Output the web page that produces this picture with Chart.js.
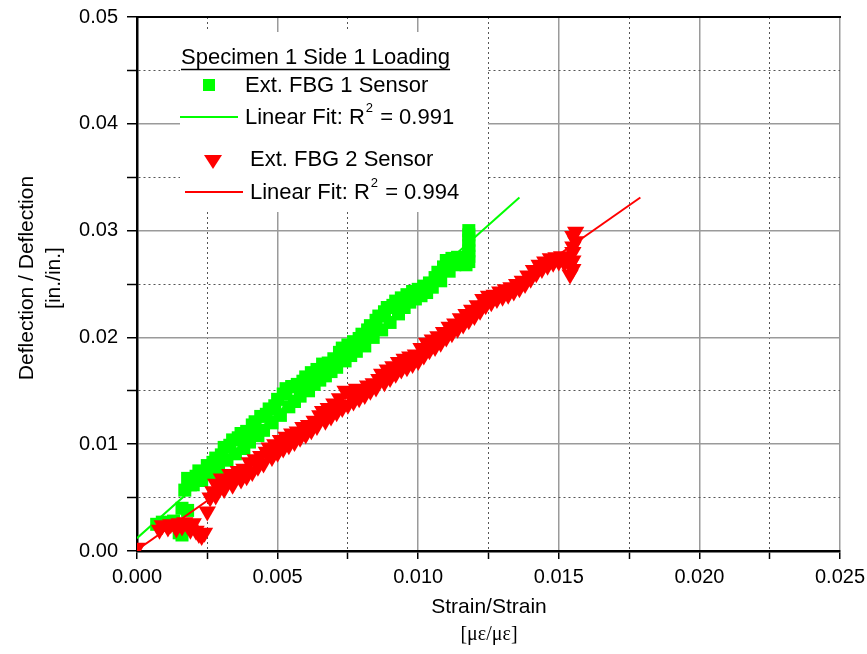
<!DOCTYPE html>
<html>
<head>
<meta charset="utf-8">
<script src="https://cdn.jsdelivr.net/npm/chart.js@4/dist/chart.umd.min.js"></script>
<style>
  html, body { margin: 0; padding: 0; background: #fff; }
</style>
</head>
<body>
<canvas id="chart" width="867" height="654"></canvas>
<script>
// Ext. FBG 1 sensor (strain, deflection)
const fbg1Strain = [
  0.0007, 0.0009, 0.0011, 0.0013, 0.0014, 0.0015, 0.0016, 0.0017, 0.0016, 0.0018,
  0.0017, 0.0019, 0.0018, 0.0021, 0.0022, 0.0024, 0.0025, 0.0027, 0.0028, 0.0030,
  0.0031, 0.0033, 0.0034, 0.0036, 0.0037, 0.0039, 0.0041, 0.0042, 0.0044, 0.0046,
  0.0047, 0.0049, 0.0050, 0.0052, 0.0053, 0.0055, 0.0057, 0.0059, 0.0060, 0.0062,
  0.0064, 0.0066, 0.0068, 0.0070, 0.0072, 0.0073, 0.0075, 0.0077, 0.0079, 0.0080,
  0.0082, 0.0083, 0.0085, 0.0086, 0.0088, 0.0089, 0.0091, 0.0092, 0.0094, 0.0096,
  0.0098, 0.0100, 0.0102, 0.0104, 0.0106, 0.0107, 0.0109, 0.0110, 0.0112, 0.0114,
  0.0116, 0.0118, 0.0118, 0.0118, 0.0118, 0.0118, 0.0118, 0.0118,
  0.0020, 0.0023, 0.0026, 0.0029, 0.0032, 0.0035, 0.0038, 0.0040, 0.0043, 0.0045,
  0.0048, 0.0051, 0.0054, 0.0056, 0.0058, 0.0061, 0.0063, 0.0065, 0.0067, 0.0069,
  0.0071, 0.0074, 0.0076, 0.0078, 0.0081, 0.0084, 0.0087, 0.0090, 0.0093, 0.0095,
  0.0097, 0.0099, 0.0101, 0.0103, 0.0105, 0.0108, 0.0111, 0.0113, 0.0115, 0.0117
];
const fbg1Defl = [
  0.0025, 0.0027, 0.0026, 0.0028, 0.0024, 0.0017, 0.0015, 0.0021, 0.0040, 0.0038,
  0.0057, 0.0062, 0.0068, 0.0070, 0.0075, 0.0074, 0.0080, 0.0083, 0.0087, 0.0090,
  0.0097, 0.0099, 0.0104, 0.0106, 0.0110, 0.0112, 0.0118, 0.0121, 0.0126, 0.0128,
  0.0133, 0.0136, 0.0142, 0.0147, 0.0152, 0.0154, 0.0156, 0.0159, 0.0163, 0.0167,
  0.0170, 0.0175, 0.0176, 0.0180, 0.0186, 0.0190, 0.0193, 0.0196, 0.0199, 0.0203,
  0.0207, 0.0211, 0.0216, 0.0220, 0.0224, 0.0228, 0.0230, 0.0234, 0.0237, 0.0240,
  0.0243, 0.0245, 0.0248, 0.0251, 0.0256, 0.0261, 0.0266, 0.0272, 0.0274, 0.0275,
  0.0274, 0.0271, 0.0276, 0.0281, 0.0286, 0.0291, 0.0296, 0.0300,
  0.0062, 0.0066, 0.0072, 0.0078, 0.0085, 0.0091, 0.0096, 0.0102, 0.0108, 0.0113,
  0.0120, 0.0127, 0.0135, 0.0140, 0.0145, 0.0150, 0.0156, 0.0160, 0.0164, 0.0168,
  0.0172, 0.0178, 0.0183, 0.0187, 0.0192, 0.0200, 0.0207, 0.0214, 0.0222, 0.0228,
  0.0233, 0.0236, 0.0239, 0.0242, 0.0247, 0.0253, 0.0262, 0.0268, 0.0270, 0.0268
];

// Ext. FBG 2 sensor (strain, deflection)
const fbg2Strain = [
  0.0000, 0.0008, 0.0009, 0.0011, 0.0012, 0.0014, 0.0015, 0.0016, 0.0017, 0.0018,
  0.0019, 0.0020, 0.0021, 0.0022, 0.0023, 0.0024, 0.0025, 0.0026, 0.0027, 0.0028,
  0.0029, 0.0030, 0.0032, 0.0033, 0.0035, 0.0036, 0.0038, 0.0040, 0.0042, 0.0044,
  0.0046, 0.0047, 0.0049, 0.0051, 0.0053, 0.0055, 0.0057, 0.0059, 0.0061, 0.0063,
  0.0065, 0.0066, 0.0068, 0.0070, 0.0072, 0.0074, 0.0076, 0.0078, 0.0080, 0.0082,
  0.0084, 0.0086, 0.0087, 0.0089, 0.0091, 0.0093, 0.0095, 0.0097, 0.0099, 0.0101,
  0.0103, 0.0105, 0.0107, 0.0109, 0.0111, 0.0113, 0.0115, 0.0117, 0.0119, 0.0121,
  0.0123, 0.0125, 0.0127, 0.0129, 0.0131, 0.0133, 0.0135, 0.0137, 0.0139, 0.0141,
  0.0143, 0.0145, 0.0147, 0.0149, 0.0151, 0.0153, 0.0154, 0.0155, 0.0155, 0.0155,
  0.0155, 0.0156, 0.0155, 0.0156,
  0.0028, 0.0031, 0.0034, 0.0037, 0.0039, 0.0041, 0.0043, 0.0045, 0.0048, 0.0050,
  0.0052, 0.0054, 0.0056, 0.0058, 0.0060, 0.0062, 0.0064, 0.0067, 0.0069, 0.0071,
  0.0073, 0.0075, 0.0077, 0.0079, 0.0081, 0.0083, 0.0085, 0.0088, 0.0090, 0.0092,
  0.0094, 0.0096, 0.0098, 0.0100, 0.0102, 0.0104, 0.0106, 0.0108, 0.0110, 0.0112,
  0.0114, 0.0116, 0.0118, 0.0120, 0.0122, 0.0124, 0.0126, 0.0128, 0.0130, 0.0132,
  0.0134, 0.0136, 0.0138, 0.0140, 0.0142, 0.0144, 0.0146, 0.0148, 0.0150, 0.0152,
  0.0154
];
const fbg2Defl = [
  0.0003, 0.0020, 0.0024, 0.0022, 0.0025, 0.0021, 0.0026, 0.0023, 0.0027, 0.0024,
  0.0020, 0.0026, 0.0019, 0.0016, 0.0014, 0.0017, 0.0037, 0.0050, 0.0056, 0.0063,
  0.0060, 0.0068, 0.0066, 0.0072, 0.0071, 0.0075, 0.0077, 0.0083, 0.0086, 0.0089,
  0.0093, 0.0097, 0.0100, 0.0104, 0.0107, 0.0110, 0.0112, 0.0116, 0.0118, 0.0122,
  0.0127, 0.0131, 0.0134, 0.0138, 0.0143, 0.0150, 0.0148, 0.0152, 0.0150, 0.0155,
  0.0157, 0.0161, 0.0166, 0.0170, 0.0173, 0.0177, 0.0180, 0.0182, 0.0184, 0.0190,
  0.0195, 0.0198, 0.0201, 0.0205, 0.0210, 0.0213, 0.0218, 0.0222, 0.0226, 0.0230,
  0.0236, 0.0239, 0.0240, 0.0243, 0.0245, 0.0247, 0.0250, 0.0253, 0.0258, 0.0263,
  0.0268, 0.0271, 0.0274, 0.0275, 0.0276, 0.0275, 0.0268, 0.0264, 0.0272, 0.0280,
  0.0285, 0.0290, 0.0295, 0.0299,
  0.0052, 0.0058, 0.0062, 0.0067, 0.0070, 0.0074, 0.0079, 0.0082, 0.0088, 0.0092,
  0.0096, 0.0099, 0.0102, 0.0106, 0.0109, 0.0113, 0.0117, 0.0122, 0.0126, 0.0130,
  0.0134, 0.0137, 0.0140, 0.0143, 0.0146, 0.0150, 0.0153, 0.0158, 0.0162, 0.0166,
  0.0170, 0.0172, 0.0175, 0.0178, 0.0183, 0.0188, 0.0191, 0.0195, 0.0200, 0.0204,
  0.0208, 0.0212, 0.0216, 0.0220, 0.0225, 0.0230, 0.0233, 0.0236, 0.0238, 0.0240,
  0.0243, 0.0246, 0.0250, 0.0255, 0.0260, 0.0264, 0.0267, 0.0270, 0.0271, 0.0270,
  0.0259
];

// linear fit end points
const fit1Strain = [0.0, 0.0136];
const fit1Defl = [0.0012, 0.0331];
const fit2Strain = [0.0, 0.0179];
const fit2Defl = [0.0001, 0.0331];

const fit1Label = '0.991';
const fit2Label = '0.994';
const legendTitle = 'Specimen 1 Side 1 Loading';
const series1Name = 'Ext. FBG 1 Sensor';
const series2Name = 'Ext. FBG 2 Sensor';

const GREEN = '#00ff00';
const RED = '#ff0000';
const FONT = "'Liberation Sans', Arial, sans-serif";

function toPoints(xs, ys) {
  const n = Math.min(xs.length, ys.length);
  const pts = [];
  for (let i = 0; i < n; i++) pts.push({ x: xs[i], y: ys[i] });
  return pts;
}

function isMajor(ctx) {
  return ctx.tick ? ctx.index % 2 === 0 : true;
}

function drawFitLabel(c, x, y, value) {
  c.font = '22px ' + FONT;
  c.fillStyle = '#000';
  c.textAlign = 'left';
  const head = 'Linear Fit: R';
  c.fillText(head, x, y);
  let cx = x + c.measureText(head).width;
  c.font = '13px ' + FONT;
  c.fillText('2', cx + 1, y - 10);
  cx += c.measureText('2').width + 2;
  c.font = '22px ' + FONT;
  c.fillText(' = ' + value, cx, y);
}

// white legend panel sitting over the grid, under the data
const legendPanel = {
  id: 'legendPanel',
  beforeDatasetsDraw(chart) {
    const c = chart.ctx;
    c.save();
    c.fillStyle = '#fff';
    c.fillRect(180, 32, 308, 180);

    c.fillStyle = '#000';
    c.textBaseline = 'middle';
    c.font = '22px ' + FONT;
    c.textAlign = 'left';
    c.fillText(legendTitle, 181, 58);
    const tw = c.measureText(legendTitle).width;
    c.strokeStyle = '#000';
    c.lineWidth = 1.5;
    c.beginPath();
    c.moveTo(181, 69.5);
    c.lineTo(181 + tw, 69.5);
    c.stroke();

    // series 1
    c.fillStyle = GREEN;
    c.fillRect(203, 79, 12, 12);
    c.fillStyle = '#000';
    c.fillText(series1Name, 245, 86);
    c.strokeStyle = GREEN;
    c.lineWidth = 2;
    c.beginPath();
    c.moveTo(180, 117);
    c.lineTo(238, 117);
    c.stroke();
    drawFitLabel(c, 245, 118, fit1Label);

    // series 2
    c.fillStyle = RED;
    c.beginPath();
    c.moveTo(204, 155);
    c.lineTo(222, 155);
    c.lineTo(213, 169);
    c.closePath();
    c.fill();
    c.fillStyle = '#000';
    c.fillText(series2Name, 250, 160);
    c.strokeStyle = RED;
    c.lineWidth = 2;
    c.beginPath();
    c.moveTo(185, 192);
    c.lineTo(243, 192);
    c.stroke();
    drawFitLabel(c, 250, 193, fit2Label);
    c.restore();
  },
  afterDraw(chart) {
    const c = chart.ctx;
    const a = chart.chartArea;
    c.save();
    // top frame
    c.strokeStyle = '#000';
    c.lineWidth = 2;
    c.beginPath();
    c.moveTo(a.left - 1, a.top);
    c.lineTo(a.right + 1, a.top);
    c.stroke();

    // axis titles
    c.fillStyle = '#000';
    c.textAlign = 'center';
    c.textBaseline = 'middle';
    c.font = '21px ' + FONT;
    c.fillText('Strain/Strain', 489, 607);
    c.font = '20px "Liberation Serif", "Times New Roman", serif';
    c.fillText('[\u03bc\u03b5/\u03bc\u03b5]', 489, 635);

    c.translate(27, 278);
    c.rotate(-Math.PI / 2);
    c.font = '21px ' + FONT;
    c.fillText('Deflection / Deflection', 0, 0);
    c.fillText('[in./in.]', 0, 27);
    c.restore();
  }
};

new Chart(document.getElementById('chart'), {
  type: 'scatter',
  data: {
    datasets: [
      {
        label: series1Name,
        data: toPoints(fbg1Strain, fbg1Defl),
        pointStyle: 'rect',
        pointRadius: 9.2,
        backgroundColor: GREEN,
        borderColor: GREEN,
        borderWidth: 0,
        order: 4
      },
      {
        label: 'Linear Fit 1',
        type: 'line',
        data: toPoints(fit1Strain, fit1Defl),
        borderColor: GREEN,
        borderWidth: 2,
        pointRadius: 0,
        fill: false,
        order: 3
      },
      {
        label: series2Name,
        data: toPoints(fbg2Strain, fbg2Defl),
        pointStyle: 'triangle',
        rotation: 180,
        pointRadius: 10,
        backgroundColor: RED,
        borderColor: RED,
        borderWidth: 0,
        order: 2
      },
      {
        label: 'Linear Fit 2',
        type: 'line',
        data: toPoints(fit2Strain, fit2Defl),
        borderColor: RED,
        borderWidth: 2,
        pointRadius: 0,
        fill: false,
        order: 1
      }
    ]
  },
  options: {
    responsive: false,
    animation: false,
    devicePixelRatio: 1,
    layout: { padding: { top: 17, right: 27, left: 0, bottom: 0 } },
    plugins: {
      legend: { display: false },
      tooltip: { enabled: false }
    },
    scales: {
      x: {
        type: 'linear',
        min: 0,
        max: 0.025,
        afterFit(scale) {
          scale.height = 103;
          scale.paddingLeft = 0;
          scale.paddingRight = 0;
        },
        ticks: {
          stepSize: 0.0025,
          color: '#000',
          padding: 6,
          maxRotation: 0,
          autoSkip: false,
          font: { family: FONT, size: 20 },
          callback(v, i) { return i % 2 === 0 ? v.toFixed(3) : ''; }
        },
        grid: {
          color: (ctx) => isMajor(ctx) ? '#9a9a9a' : '#555',
          lineWidth: (ctx) => isMajor(ctx) ? 1.5 : 1,
          drawTicks: true,
          tickLength: 8,
          tickColor: '#000',
          tickWidth: 1.5
        },
        border: {
          color: '#000',
          width: 2.5,
          dash: (ctx) => isMajor(ctx) ? [] : [2, 3]
        }
      },
      y: {
        type: 'linear',
        min: 0,
        max: 0.05,
        afterFit(scale) {
          scale.width = 137;
          scale.paddingTop = 0;
          scale.paddingBottom = 0;
        },
        ticks: {
          stepSize: 0.005,
          color: '#000',
          padding: 9,
          autoSkip: false,
          font: { family: FONT, size: 20 },
          callback(v, i) { return i % 2 === 0 ? v.toFixed(2) : ''; }
        },
        grid: {
          color: (ctx) => isMajor(ctx) ? '#9a9a9a' : '#555',
          lineWidth: (ctx) => isMajor(ctx) ? 1.5 : 1,
          drawTicks: true,
          tickLength: 10,
          tickColor: '#000',
          tickWidth: 1.5
        },
        border: {
          color: '#000',
          width: 2.5,
          dash: (ctx) => isMajor(ctx) ? [] : [2, 3]
        }
      }
    }
  },
  plugins: [legendPanel]
});
</script>
</body>
</html>
